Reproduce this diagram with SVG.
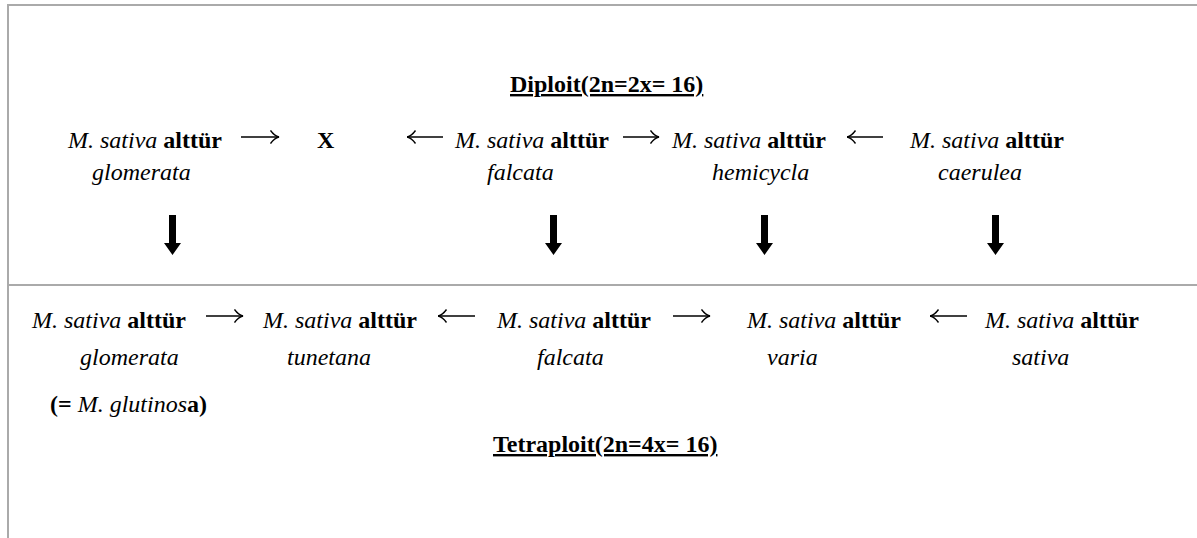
<svg xmlns="http://www.w3.org/2000/svg" width="1197" height="538" viewBox="0 0 1197 538">
<defs>
<style>
text{font-family:'Liberation Serif','Times New Roman','DejaVu Serif',serif;font-size:24px;fill:#000}
.i{font-style:italic}
.b{font-weight:bold}
.u{text-decoration:underline}
.frame{stroke:#aaa;stroke-width:2;fill:none}
.ha{stroke:#000;stroke-width:1.4;fill:none}
.da{fill:#000}
</style>
<marker id="head" viewBox="0 0 10 14" refX="9.5" refY="7" markerWidth="10" markerHeight="14" markerUnits="userSpaceOnUse" orient="auto">
<path d="M1,0.5 Q5,6 9.5,7 Q5,8 1,13.5" stroke="#000" stroke-width="1.4" fill="none"/>
</marker>
</defs>
<rect width="1197" height="538" fill="#fff"/>
<g id="frame">
<path class="frame" d="M8,538 V5 H1197"/>
<path class="frame" d="M8,285 H1197"/>
</g>
<g font-family="Liberation Serif, serif" font-size="24">
<g id="titles">
<text id="title-diploit" class="b u" x="510" y="92">Diploit(2n=2x= 16)</text>
<text id="title-tetraploit" class="b u" x="493" y="452">Tetraploit(2n=4x= 16)</text>
</g>
<g id="node-d-glomerata">
<text x="68" y="148"><tspan class="i">M. sativa</tspan> <tspan class="b">alttür</tspan></text>
<text class="i" x="92" y="180">glomerata</text>
</g>
<g id="node-x">
<text class="b" x="317" y="148">X</text>
</g>
<g id="node-d-falcata">
<text x="455" y="148"><tspan class="i">M. sativa</tspan> <tspan class="b">alttür</tspan></text>
<text class="i" x="487" y="180">falcata</text>
</g>
<g id="node-d-hemicycla">
<text x="672" y="148"><tspan class="i">M. sativa</tspan> <tspan class="b">alttür</tspan></text>
<text class="i" x="712" y="180">hemicycla</text>
</g>
<g id="node-d-caerulea">
<text x="910" y="148"><tspan class="i">M. sativa</tspan> <tspan class="b">alttür</tspan></text>
<text class="i" x="938" y="180">caerulea</text>
</g>
<g id="node-t-glomerata">
<text x="32" y="328"><tspan class="i">M. sativa</tspan> <tspan class="b">alttür</tspan></text>
<text class="i" x="80" y="365">glomerata</text>
<text x="50" y="412"><tspan class="b">(= </tspan><tspan class="i">M. glutinos</tspan><tspan class="b">a)</tspan></text>
</g>
<g id="node-t-tunetana">
<text x="263" y="328"><tspan class="i">M. sativa</tspan> <tspan class="b">alttür</tspan></text>
<text class="i" x="287" y="365">tunetana</text>
</g>
<g id="node-t-falcata">
<text x="497" y="328"><tspan class="i">M. sativa</tspan> <tspan class="b">alttür</tspan></text>
<text class="i" x="537" y="365">falcata</text>
</g>
<g id="node-t-varia">
<text x="747" y="328"><tspan class="i">M. sativa</tspan> <tspan class="b">alttür</tspan></text>
<text class="i" x="767" y="365">varia</text>
</g>
<g id="node-t-sativa">
<text x="985" y="328"><tspan class="i">M. sativa</tspan> <tspan class="b">alttür</tspan></text>
<text class="i" x="1012" y="365">sativa</text>
</g>
</g>
<g id="connectors">
<path class="ha" d="M241,137 H279" marker-end="url(#head)"/>
<path class="ha" d="M443,137 H407" marker-end="url(#head)"/>
<path class="ha" d="M623,137 H659" marker-end="url(#head)"/>
<path class="ha" d="M883,137 H847" marker-end="url(#head)"/>
<path class="ha" d="M206,316 H243" marker-end="url(#head)"/>
<path class="ha" d="M475,316 H438" marker-end="url(#head)"/>
<path class="ha" d="M673,316 H710" marker-end="url(#head)"/>
<path class="ha" d="M967,316 H930" marker-end="url(#head)"/>
<path class="da" d="M169,215 h7 v28 h5 l-8.5,12 l-8.5,-12 h5 z"/>
<path class="da" d="M550,215 h7 v28 h5 l-8.5,12 l-8.5,-12 h5 z"/>
<path class="da" d="M761,215 h7 v28 h5 l-8.5,12 l-8.5,-12 h5 z"/>
<path class="da" d="M992,215 h7 v28 h5 l-8.5,12 l-8.5,-12 h5 z"/>
</g>
</svg>
